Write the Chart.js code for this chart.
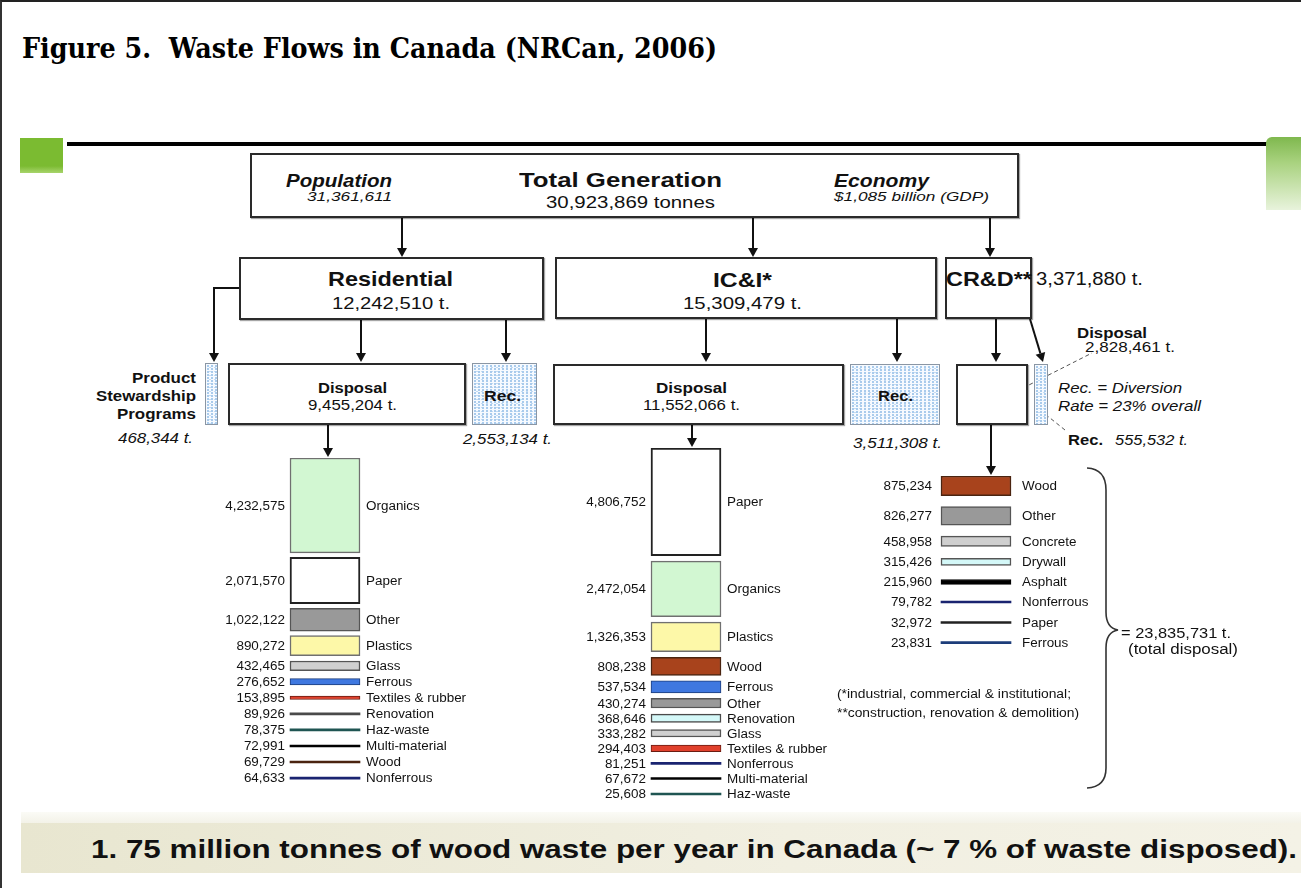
<!DOCTYPE html>
<html>
<head>
<meta charset="utf-8">
<title>Waste Flows in Canada</title>
<script src="https://cdn.jsdelivr.net/npm/chart.js@4.4.1/dist/chart.umd.min.js"></script>
<style>
  body { margin: 0; width: 1301px; height: 888px; position: relative; overflow: hidden; background: #fff;
         font-family: 'Liberation Sans', Arial, sans-serif; }
  .t { position: absolute; left: 0; top: 0; white-space: pre; line-height: 1; }
  .box { position: absolute; box-sizing: border-box; border: 2px solid #2a2a2a; background: #fff;
         box-shadow: 1px 1px 1px rgba(0,0,0,0.35); }
  .hatch { position: absolute; box-sizing: border-box; border: 1.5px solid #8a96a4;
           background-color: #f6faff;
           background-image: radial-gradient(circle at 2px 2px, #a9cbec 0 1px, transparent 1.3px),
                             radial-gradient(circle at 4px 4px, #c4dcf3 0 1px, transparent 1.3px);
           background-size: 4px 3px, 5px 4px; }
  .stack { position: absolute; }
  #frame { position: absolute; left: 0; top: 0; width: 1301px; height: 888px; box-sizing: border-box;
           border-left: 2px solid #333; border-top: 2px solid #222; pointer-events: none; }
</style>
</head>
<body>
<div id="frame"></div>
<div style="position:absolute;left:20px;top:138px;width:43px;height:35px;background:linear-gradient(to bottom,#7bbb31 0%,#7bbb31 80%,#a8d46c 100%)"></div>
<div style="position:absolute;left:67px;top:142px;width:1203px;height:4px;background:#000"></div>
<div style="position:absolute;left:1266px;top:137px;width:35px;height:73px;border-radius:6px 0 0 0;background:linear-gradient(to bottom,#7fb84e 0%,#a9d27f 35%,#e8f3dc 100%)"></div>
<div style="position:absolute;left:21px;top:812px;width:1280px;height:11px;background:linear-gradient(to bottom,#fbfbf6,#f3f2e8)"></div>
<div style="position:absolute;left:21px;top:823px;width:1280px;height:50px;background:linear-gradient(to right,#e8e6d0,#f1efe1 60%,#f4f2e6)"></div>

<svg id="lines" width="1301" height="888" style="position:absolute;left:0;top:0"></svg>

<div class="box" style="left:250px;top:153px;width:769px;height:65px"></div>
<div class="box" style="left:239px;top:257px;width:305px;height:63px"></div>
<div class="box" style="left:555px;top:257px;width:382px;height:62px"></div>
<div class="box" style="left:945px;top:257px;width:87px;height:62px"></div>
<div class="box" style="left:228px;top:363px;width:238px;height:62px"></div>
<div class="box" style="left:553px;top:364px;width:291px;height:61px"></div>
<div class="box" style="left:956px;top:364px;width:72px;height:61px"></div>
<div class="hatch" style="left:205px;top:363px;width:13px;height:62px"></div>
<div class="hatch" style="left:472px;top:363px;width:65px;height:62px"></div>
<div class="hatch" style="left:850px;top:364px;width:90px;height:61px"></div>
<div class="hatch" style="left:1034px;top:364px;width:14px;height:61px"></div>

<div class="stack" id="wrapRes"><canvas id="resChart"></canvas></div>
<div class="stack" id="wrapIci"><canvas id="iciChart"></canvas></div>
<div class="stack" id="wrapCrd"><canvas id="crdChart"></canvas></div>

<script>
// ===== DATA =====
const sectors = ['Residential', 'IC&I*', 'CR&D**'];
const sectorTotals = [12242510, 15309479, 3371880];
const sectorDisposal = [9455204, 11552066, 2828461];
const sectorRecycled = [2553134, 3511308, 555532];
const stewardship = 468344;
const population = 31361611;
const totalGeneration = 30923869;
const totalDisposal = 23835731;

const resMaterials = ['Organics', 'Paper', 'Other', 'Plastics', 'Glass', 'Ferrous', 'Textiles & rubber',
                      'Renovation', 'Haz-waste', 'Multi-material', 'Wood', 'Nonferrous'];
const resTonnes = [4232575, 2071570, 1022122, 890272, 432465, 276652, 153895, 89926, 78375, 72991, 69729, 64633];

const iciMaterials = ['Paper', 'Organics', 'Plastics', 'Wood', 'Ferrous', 'Other', 'Renovation', 'Glass',
                      'Textiles & rubber', 'Nonferrous', 'Multi-material', 'Haz-waste'];
const iciTonnes = [4806752, 2472054, 1326353, 808238, 537534, 430274, 368646, 333282, 294403, 81251, 67672, 25608];

const crdMaterials = ['Wood', 'Other', 'Concrete', 'Drywall', 'Asphalt', 'Nonferrous', 'Paper', 'Ferrous'];
const crdTonnes = [875234, 826277, 458958, 315426, 215960, 79782, 32972, 23831];

// ===== STYLES =====
const materialStyle = {
  'Organics':          { fill: '#d2f7d2', line: '#707070', bw: 1.5 },
  'Paper':             { fill: '#ffffff', line: '#222222', bw: 2 },
  'Other':             { fill: '#999999', line: '#555555', bw: 1.5 },
  'Plastics':          { fill: '#fdf8a8', line: '#707070', bw: 1.5 },
  'Glass':             { fill: '#d0d0d0', line: '#555555', bw: 1.5 },
  'Ferrous':           { fill: '#3f78e0', line: '#1d3d7a', bw: 1 },
  'Textiles & rubber': { fill: '#e0402c', line: '#6a1c12', bw: 1 },
  'Renovation':        { fill: '#d4f8f8', line: '#4a4a4a', bw: 1.5 },
  'Haz-waste':         { fill: '#2e6f6c', line: '#1f5552', bw: 1 },
  'Multi-material':    { fill: '#111111', line: '#000000', bw: 1 },
  'Wood':              { fill: '#a8431c', line: '#4a2410', bw: 1.5 },
  'Nonferrous':        { fill: '#2a3a9a', line: '#1a2470', bw: 1 },
  'Concrete':          { fill: '#cfcfcf', line: '#555555', bw: 1.5 },
  'Drywall':           { fill: '#d4f8f8', line: '#555555', bw: 1.5 },
  'Asphalt':           { fill: '#000000', line: '#000000', bw: 1 }
};
const SANS = "'Liberation Sans', Arial, sans-serif";
const PX_PER_TONNE = 22.4 / 1e6;
const fmt = n => n.toLocaleString('en-US');

// ===== TEXT =====
function addText(str, x, yc, o) {
  const el = document.createElement('div');
  el.className = 't';
  el.textContent = str;
  el.style.font = (o.italic ? 'italic ' : '') + (o.bold ? 'bold ' : '') + o.size + 'px ' + (o.family || SANS);
  el.style.color = o.color || '#111';
  document.body.appendChild(el);
  const natural = el.getBoundingClientRect().width;
  const w = o.w || natural;
  const align = o.align || 'left';
  const left = align === 'left' ? x : (align === 'center' ? x - w / 2 : x - w);
  el.style.left = left + 'px';
  el.style.top = (yc - o.size * 0.49) + 'px';
  el.style.transformOrigin = '0 0';
  el.style.transform = 'scaleX(' + (w / natural) + ')';
  return el;
}

addText('Figure 5.  Waste Flows in Canada (NRCan, 2006)', 22, 46, { size: 28, bold: true, w: 695, family: "'DejaVu Serif', 'Liberation Serif', serif", color: '#000' });

addText('Population', 392, 179, { size: 19, bold: true, italic: true, align: 'right', w: 106 });
addText(fmt(population), 392, 195, { size: 13, italic: true, align: 'right', w: 85 });
addText('Total Generation', 620.5, 179, { size: 20, bold: true, align: 'center', w: 203 });
addText(fmt(totalGeneration) + ' tonnes', 630.5, 202, { size: 16, align: 'center', w: 169 });
addText('Economy', 834, 179, { size: 19, bold: true, italic: true, w: 95 });
addText('$1,085 billion (GDP)', 834, 195, { size: 13, italic: true, w: 155 });

addText(sectors[0], 390.5, 277.5, { size: 21, bold: true, align: 'center', w: 125 });
addText(fmt(sectorTotals[0]) + ' t.', 391, 302.5, { size: 16, align: 'center', w: 118 });
addText(sectors[1], 742.5, 278.5, { size: 21, bold: true, align: 'center', w: 59 });
addText(fmt(sectorTotals[1]) + ' t.', 742.5, 302.5, { size: 16, align: 'center', w: 119 });
addText(sectors[2], 946, 277, { size: 21, bold: true, w: 86 });
addText(fmt(sectorTotals[2]) + ' t.', 1036, 277, { size: 19, w: 107 });

addText('Disposal', 352.5, 387, { size: 14, bold: true, align: 'center', w: 69 });
addText(fmt(sectorDisposal[0]) + ' t.', 352.5, 404, { size: 14, align: 'center', w: 89 });
addText('Disposal', 691.5, 387, { size: 14, bold: true, align: 'center', w: 71 });
addText(fmt(sectorDisposal[1]) + ' t.', 691.5, 404, { size: 14, align: 'center', w: 97 });
addText('Rec.', 502, 395, { size: 14, bold: true, align: 'center', w: 37 });
addText('Rec.', 895, 395, { size: 14, bold: true, align: 'center', w: 35 });

addText('Product', 196, 377, { size: 14, bold: true, align: 'right', w: 64 });
addText('Stewardship', 196, 395, { size: 14, bold: true, align: 'right', w: 100 });
addText('Programs', 196, 413, { size: 14, bold: true, align: 'right', w: 79 });
addText(fmt(stewardship) + ' t.', 193, 437, { size: 14, italic: true, align: 'right', w: 75 });
addText(fmt(sectorRecycled[0]) + ' t.', 463, 438, { size: 14, italic: true, w: 89 });
addText(fmt(sectorRecycled[1]) + ' t.', 853, 442, { size: 14, italic: true, w: 89 });

addText('Disposal', 1077, 331.5, { size: 14, bold: true, w: 70 });
addText(fmt(sectorDisposal[2]) + ' t.', 1085, 346, { size: 14, w: 90 });
addText('Rec. = Diversion', 1058, 387, { size: 14, italic: true, w: 124 });
addText('Rate = 23% overall', 1058, 404.5, { size: 14, italic: true, w: 143 });
addText('Rec.', 1068, 438.5, { size: 14, bold: true, w: 35 });
addText(fmt(sectorRecycled[2]) + ' t.', 1115, 438.5, { size: 14, italic: true, w: 73 });

addText('= ' + fmt(totalDisposal) + ' t.', 1121, 632, { size: 14, w: 110 });
addText('(total disposal)', 1128, 648, { size: 14, w: 110 });
addText('(*industrial, commercial & institutional;', 837, 693, { size: 12, w: 234 });
addText('**construction, renovation & demolition)', 837, 712, { size: 12, w: 242 });

addText('1. 75 million tonnes of wood waste per year in Canada (~ 7 % of waste disposed).', 91, 847, { size: 25, bold: true, w: 1206, color: '#111' });

// ===== ARROWS =====
const svg = document.getElementById('lines');
const NS = 'http://www.w3.org/2000/svg';
function svgEl(tag, attrs) {
  const e = document.createElementNS(NS, tag);
  for (const k in attrs) e.setAttribute(k, attrs[k]);
  svg.appendChild(e);
  return e;
}
function arrow(pts, o = {}) {
  const n = pts.length;
  const [x2, y2] = pts[n - 1], [x1, y1] = pts[n - 2];
  const len = Math.hypot(x2 - x1, y2 - y1), ux = (x2 - x1) / len, uy = (y2 - y1) / len;
  const hl = o.head || 9, hw = o.hw || 5;
  const bx = x2 - ux * hl, by = y2 - uy * hl;
  const linePts = pts.slice(0, n - 1).concat([[bx, by]]);
  svgEl('polyline', { points: linePts.map(p => p.join(',')).join(' '), fill: 'none',
    stroke: o.color || '#111', 'stroke-width': o.width || 2, 'stroke-dasharray': o.dash || 'none' });
  svgEl('polygon', { points: [[x2, y2], [bx - uy * hw, by + ux * hw], [bx + uy * hw, by - ux * hw]]
    .map(p => p.join(',')).join(' '), fill: '#111' });
}

arrow([[411, 181], [498, 181]], { color: '#777', width: 1.5, dash: '1.5 1.5', head: 6, hw: 3.5 });
arrow([[822, 181], [749, 181]], { color: '#777', width: 1.5, dash: '1.5 1.5', head: 6, hw: 3.5 });
arrow([[402, 218], [402, 257]]);
arrow([[753, 218], [753, 257]]);
arrow([[990, 218], [990, 257]]);
arrow([[239, 288], [214, 288], [214, 362]]);
arrow([[361, 320], [361, 362]]);
arrow([[506, 320], [506, 362]]);
arrow([[706, 319], [706, 362]]);
arrow([[897, 319], [897, 362]]);
arrow([[996, 319], [996, 362]]);
arrow([[1030, 319], [1043, 362]]);
arrow([[328, 425], [328, 457]]);
arrow([[692, 425], [692, 447]]);
arrow([[991, 425], [991, 475]]);

svgEl('line', { x1: 1023, y1: 388, x2: 1092, y2: 353, stroke: '#555', 'stroke-width': 1, 'stroke-dasharray': '4 3' });
svgEl('line', { x1: 1040, y1: 410, x2: 1065, y2: 430, stroke: '#555', 'stroke-width': 1, 'stroke-dasharray': '4 3' });
svgEl('path', { d: 'M1087,468 Q1106,469 1106,490 L1106,612 Q1106,628 1118,630 Q1106,632 1106,648 L1106,768 Q1106,787 1087,788',
  fill: 'none', stroke: '#333', 'stroke-width': 1.6 });

// ===== STACKED DISPOSAL BARS =====
function drawStretched(ctx, str, x, y, align, sx) {
  const w = ctx.measureText(str).width * sx;
  const left = align === 'right' ? x - w : x;
  ctx.save();
  ctx.translate(left, y);
  ctx.scale(sx, 1);
  ctx.fillText(str, 0, 0);
  ctx.restore();
}

const stackLabels = {
  id: 'stackLabels',
  afterDatasetsDraw(chart, args, opts) {
    const ctx = chart.ctx;
    ctx.save();
    ctx.font = '12px ' + SANS;
    ctx.fillStyle = '#111';
    ctx.textBaseline = 'alphabetic';
    ctx.textAlign = 'left';
    chart.data.datasets.forEach((ds, i) => {
      const bar = chart.getDatasetMeta(i).data[0];
      const yc = (bar.y + bar.base) / 2 + 4.3;
      drawStretched(ctx, fmt(ds.tonnes), bar.x - bar.width / 2 - opts.valueGap, yc, 'right', 1.12);
      drawStretched(ctx, ds.label, bar.x + bar.width / 2 + opts.nameGap, yc, 'left', 1.12);
    });
    ctx.restore();
  }
};

function makeStack(wrapId, canvasId, materials, tonnes, o) {
  const gap = o.gapPx / PX_PER_TONNE;
  const minRow = o.minRowPx / PX_PER_TONNE;
  let pos = 0;
  const datasets = materials.map((m, i) => {
    const v = tonnes[i];
    const row = Math.max(v, minRow);
    const start = pos + (row - v) / 2;
    pos += row + gap;
    const st = materialStyle[m];
    // very thin bars read as plain lines in the outline colour
    const thin = v * PX_PER_TONNE < 2.6;
    return {
      label: m,
      tonnes: v,
      data: [[start, start + v]],
      backgroundColor: thin ? st.line : st.fill,
      borderColor: st.line,
      borderWidth: thin ? 0 : st.bw,
      borderSkipped: false,
      barThickness: 70,
      grouped: false,
      minBarLength: 2
    };
  });

  const wrap = document.getElementById(wrapId);
  wrap.style.left = (o.center - o.width / 2) + 'px';
  wrap.style.top = o.top + 'px';
  const canvas = document.getElementById(canvasId);
  canvas.width = o.width;
  canvas.height = o.height;
  canvas.style.width = o.width + 'px';
  canvas.style.height = o.height + 'px';

  return new Chart(canvas.getContext('2d'), {
    type: 'bar',
    data: { labels: [''], datasets: datasets },
    options: {
      responsive: false,
      animation: false,
      devicePixelRatio: 1,
      layout: { padding: 0 },
      plugins: {
        legend: { display: false },
        tooltip: { enabled: false },
        stackLabels: { valueGap: o.valueGap, nameGap: o.nameGap }
      },
      scales: {
        x: { type: 'category', display: false },
        y: { type: 'linear', display: false, reverse: true, min: 0, max: o.height / PX_PER_TONNE }
      }
    },
    plugins: [stackLabels]
  });
}

makeStack('wrapRes', 'resChart', resMaterials, resTonnes,
  { center: 324.5, top: 458, width: 330, height: 335, gapPx: 4.5, minRowPx: 11.5, valueGap: 5, nameGap: 6 });
makeStack('wrapIci', 'iciChart', iciMaterials, iciTonnes,
  { center: 685.5, top: 448, width: 330, height: 360, gapPx: 5.5, minRowPx: 9.5, valueGap: 5, nameGap: 6 });
makeStack('wrapCrd', 'crdChart', crdMaterials, crdTonnes,
  { center: 976, top: 476, width: 300, height: 180, gapPx: 11, minRowPx: 9, valueGap: 9, nameGap: 11 });
</script>
</body>
</html>
